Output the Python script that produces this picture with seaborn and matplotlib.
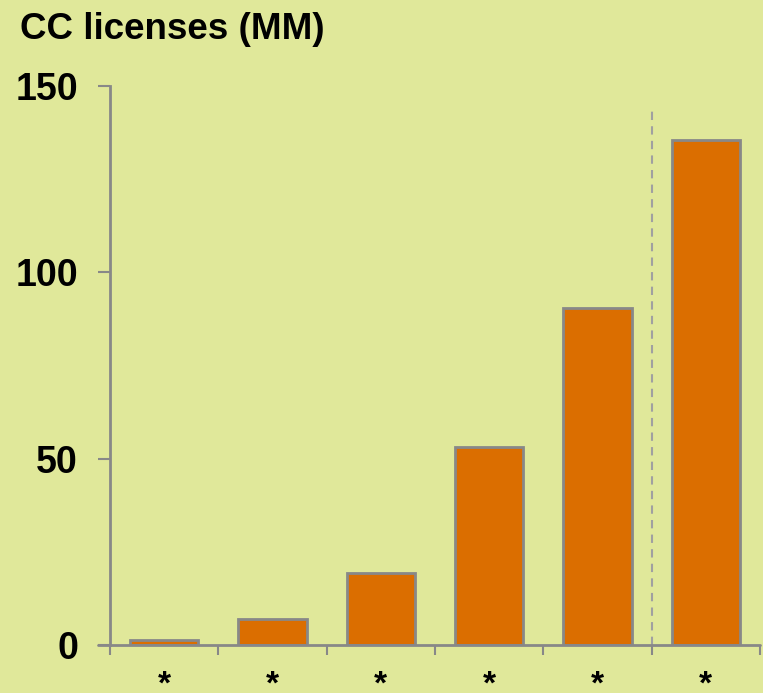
import matplotlib
matplotlib.use("Agg")
import matplotlib.pyplot as plt
import seaborn as sns

# data
periods = ["p1", "p2", "p3", "p4", "p5", "p6"]
licenses = [1.3, 7.0, 19.3, 53.0, 90.4, 135.5]
tick_labels = ["*", "*", "*", "*", "*", "*"]
yticks = [0, 50, 100, 150]

bg = "#E0E89A"
bar_color = "#DB6E00"
grey = "#888888"

sns.set_theme(style="white")
plt.rcParams["font.family"] = ["Liberation Sans", "DejaVu Sans"]
plt.rcParams["text.color"] = "black"
plt.rcParams["xtick.labelcolor"] = "black"
plt.rcParams["ytick.labelcolor"] = "black"

fig = plt.figure(figsize=(7.63, 6.93), dpi=100, facecolor=bg)
ax = fig.add_axes([110 / 763, 1 - 645 / 693, 650 / 763, (645 - 86) / 693])
ax.set_facecolor(bg)

sns.barplot(x=periods, y=licenses, order=periods, color=bar_color,
            saturation=1, width=0.63, edgecolor=grey, linewidth=2, ax=ax)

ax.set_xlim(-0.5, 5.5)
ax.set_ylim(0, 150)

# spines
for s in ["top", "right", "bottom"]:
    ax.spines[s].set_visible(False)
ax.spines["left"].set_color(grey)
ax.spines["left"].set_linewidth(2)
ax.axhline(0, xmin=-0.018, xmax=1, color=grey, lw=2, clip_on=False, zorder=5)

# y ticks
ax.set_yticks(yticks)
ax.set_yticklabels([str(v) for v in yticks], fontsize=27, fontweight="bold", color="black")
ax.tick_params(axis="y", left=True, length=9, width=1.5, color=grey, pad=14)

# x ticks: labels at centres, tick marks between categories
ax.set_xticks(range(len(periods)))
ax.set_xticklabels(tick_labels, fontsize=24, fontweight="bold", color="black")
ax.set_xticks([i - 0.5 for i in range(len(periods) + 1)], minor=True)
ax.tick_params(axis="x", which="major", bottom=False, pad=12)
ax.tick_params(axis="x", which="minor", bottom=True, length=7.5, width=1.5, color=grey)
ax.set_xlabel("")

# dashed separator before the last bar
ax.plot([4.5, 4.5], [0, 144], ls=(0, (4, 3)), color="#A0A0A0", lw=1.5, zorder=0)

fig.text(20 / 763, 1 - 12 / 693, "CC licenses (MM)", fontsize=26.5, fontweight="bold",
         va="top", ha="left", color="black")

fig.savefig("out.png", dpi=100, facecolor=bg)
